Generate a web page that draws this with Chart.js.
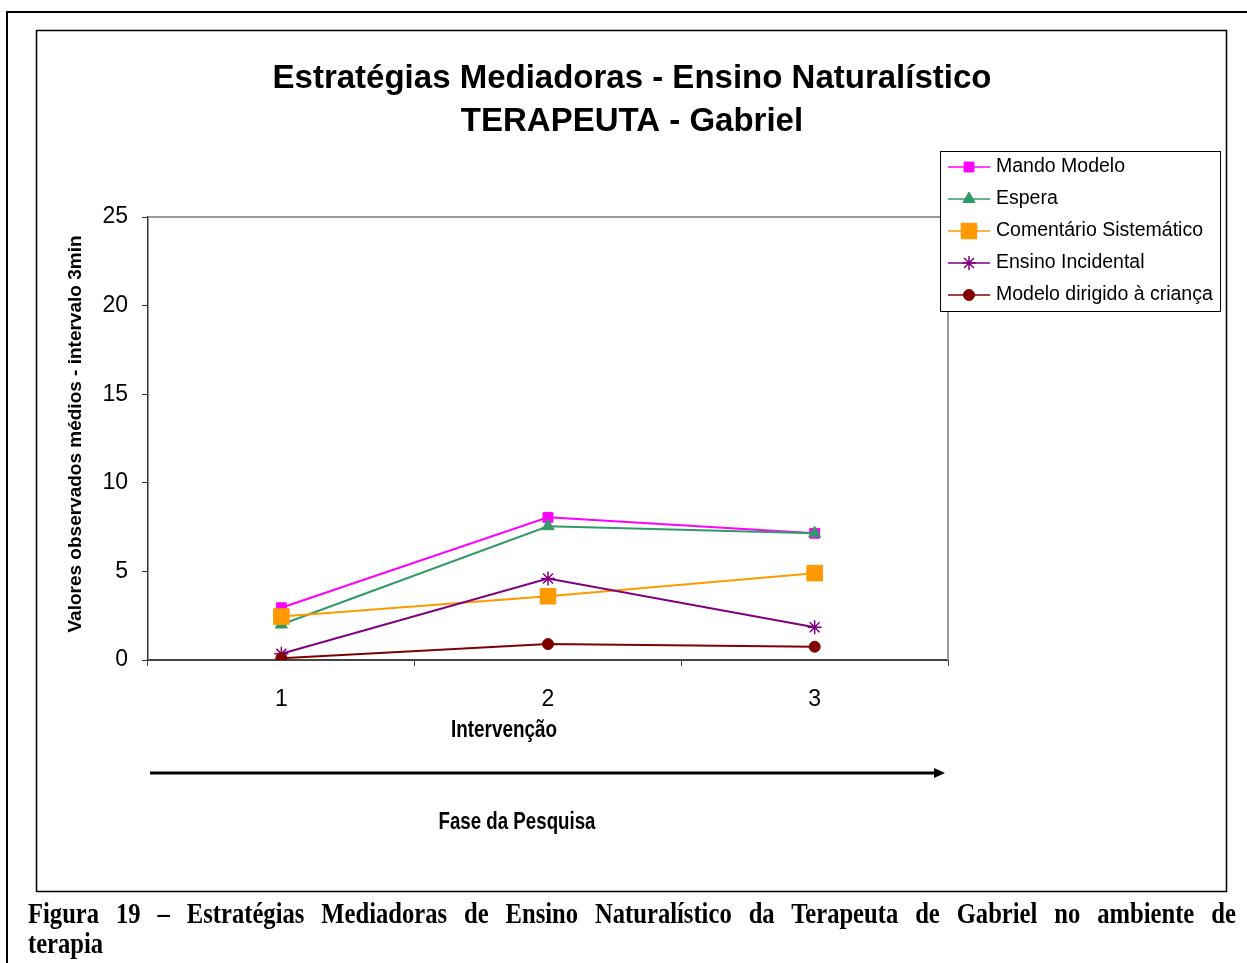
<!DOCTYPE html>
<html>
<head>
<meta charset="utf-8">
<script src="https://cdn.jsdelivr.net/npm/chart.js@4/dist/chart.umd.min.js"></script>
<style>
  body { margin: 0; background: #fff; width: 1247px; height: 963px; overflow: hidden; position: relative; }
  #c { position: absolute; left: 0; top: 0; }
  #caption {
    position: absolute; left: 28px; top: 898px; width: 1473px;
    transform: scaleX(0.82); transform-origin: left top;
    font-family: 'Liberation Serif', 'Times New Roman', serif; font-weight: bold;
    font-size: 30px; line-height: 30px; color: #000;
  }
  #caption .l1 { display: block; text-align: justify; text-align-last: justify; white-space: nowrap; }
</style>
</head>
<body>
<canvas id="c" width="1247" height="963"></canvas>
<div id="caption"><span class="l1">Figura 19 – Estratégias Mediadoras de Ensino Naturalístico da Terapeuta de Gabriel no ambiente de</span>terapia</div>
<script>
const categories = ['1', '2', '3'];
const mandoModelo = [2.95, 8.05, 7.15];
const espera = [2.0, 7.55, 7.15];
const comentarioSistematico = [2.45, 3.6, 4.9];
const ensinoIncidental = [0.35, 4.6, 1.85];
const modeloDirigido = [0.1, 0.9, 0.75];
const yTicks = [0, 5, 10, 15, 20, 25];

const titleLines = ['Estratégias Mediadoras - Ensino Naturalístico', 'TERAPEUTA - Gabriel'];
const yTitle = 'Valores observados médios - intervalo 3min';
const xTitle = 'Intervenção';
const phaseTitle = 'Fase da Pesquisa';

const SANS = "'Liberation Sans', Arial, sans-serif";

function series(label, data, color, style, radius, bw, order) {
    return {
        label: label,
        data: data,
        order: order,
        borderColor: color,
        backgroundColor: color,
        borderWidth: 2,
        pointStyle: style,
        pointRadius: radius,
        pointHoverRadius: radius,
        pointBorderWidth: bw,
        pointBorderColor: color,
        pointBackgroundColor: color,
        tension: 0
    };
}

// bordas, titulos, legenda e seta
const decorations = {
    id: 'decorations',
    afterDraw(chart) {
        const ctx = chart.ctx;
        const area = chart.chartArea;
        ctx.save();

        // moldura externa
        ctx.strokeStyle = '#000';
        ctx.lineWidth = 2;
        ctx.beginPath();
        ctx.moveTo(1247, 12);
        ctx.lineTo(7, 12);
        ctx.lineTo(7, 963);
        ctx.stroke();

        // moldura do grafico
        ctx.lineWidth = 1.5;
        ctx.strokeRect(36.5, 30.5, 1190, 861);

        // borda da area de plotagem
        ctx.strokeStyle = '#999';
        ctx.lineWidth = 2;
        ctx.beginPath();
        ctx.moveTo(area.left, area.top);
        ctx.lineTo(area.right, area.top);
        ctx.lineTo(area.right, area.bottom);
        ctx.stroke();

        // titulo
        ctx.fillStyle = '#000';
        ctx.textAlign = 'center';
        ctx.textBaseline = 'middle';
        ctx.font = 'bold 33px ' + SANS;
        ctx.fillText(titleLines[0], 632, 79);
        ctx.fillText(titleLines[1], 632, 122);

        // titulo eixo y
        ctx.save();
        ctx.translate(76, 434);
        ctx.rotate(-Math.PI / 2);
        ctx.font = 'bold 19px ' + SANS;
        ctx.fillText(yTitle, 0, 0);
        ctx.restore();

        // titulo eixo x
        ctx.font = 'bold 23px ' + SANS;
        ctx.fillText(xTitle, 504, 731, 106);
        ctx.fillText(phaseTitle, 517, 823, 157);

        // seta
        ctx.strokeStyle = '#000';
        ctx.lineWidth = 3;
        ctx.beginPath();
        ctx.moveTo(150, 773);
        ctx.lineTo(936, 773);
        ctx.stroke();
        ctx.beginPath();
        ctx.moveTo(945, 773);
        ctx.lineTo(934, 768);
        ctx.lineTo(934, 778);
        ctx.closePath();
        ctx.fill();

        // legenda
        ctx.fillStyle = '#fff';
        ctx.fillRect(940, 151, 280, 160);
        ctx.strokeStyle = '#000';
        ctx.lineWidth = 1;
        ctx.strokeRect(940.5, 151.5, 280, 160);
        ctx.textAlign = 'left';
        ctx.font = '19.5px ' + SANS;
        chart.data.datasets.forEach((ds, i) => {
            const y = 167 + i * 32;
            ctx.strokeStyle = ds.borderColor;
            ctx.lineWidth = 1.5;
            ctx.beginPath();
            ctx.moveTo(948, y);
            ctx.lineTo(990, y);
            ctx.stroke();
            ctx.fillStyle = ds.pointBackgroundColor;
            ctx.lineWidth = ds.pointBorderWidth;
            Chart.helpers.drawPoint(ctx, {
                pointStyle: ds.pointStyle,
                radius: ds.pointRadius,
                rotation: 0,
                borderWidth: ds.pointBorderWidth
            }, 969, y);
            ctx.fillStyle = '#000';
            ctx.fillText(ds.label, 996, y);
        });

        ctx.restore();
    }
};

new Chart(document.getElementById('c'), {
    type: 'line',
    data: {
        labels: categories,
        datasets: [
            series('Mando Modelo', mandoModelo, '#FF00FF', 'rect', 7, 1, 5),
            series('Espera', espera, '#339966', 'triangle', 7, 1, 4),
            series('Comentário Sistemático', comentarioSistematico, '#FF9900', 'rect', 11, 1, 3),
            series('Ensino Incidental', ensinoIncidental, '#800080', 'star', 7, 1.5, 2),
            series('Modelo dirigido à criança', modeloDirigido, '#800000', 'circle', 5.5, 1, 1)
        ]
    },
    plugins: [decorations],
    options: {
        responsive: false,
        animation: false,
        events: [],
        layout: { padding: { left: 88, right: 299, top: 217, bottom: 233 } },
        plugins: {
            legend: { display: false },
            title: { display: false },
            tooltip: { enabled: false }
        },
        scales: {
            x: {
                offset: true,
                grid: { offset: true, drawOnChartArea: false, drawTicks: true, tickLength: 6, tickColor: '#444', tickWidth: 1 },
                border: { display: true, color: '#444', width: 2 },
                ticks: { color: '#000', padding: 20, font: { family: SANS, size: 23 } },
                afterFit(scale) { scale.height = 70; }
            },
            y: {
                min: 0,
                max: 25,
                afterBuildTicks(scale) { scale.ticks = yTicks.map(v => ({ value: v })); },
                grid: { drawOnChartArea: false, drawTicks: true, tickLength: 6, tickColor: '#333', tickWidth: 1 },
                border: { display: true, color: '#333', width: 1.5 },
                ticks: { color: '#000', padding: 14, font: { family: SANS, size: 23 } },
                afterFit(scale) { scale.width = 60; }
            }
        }
    }
});
</script>
</body>
</html>
